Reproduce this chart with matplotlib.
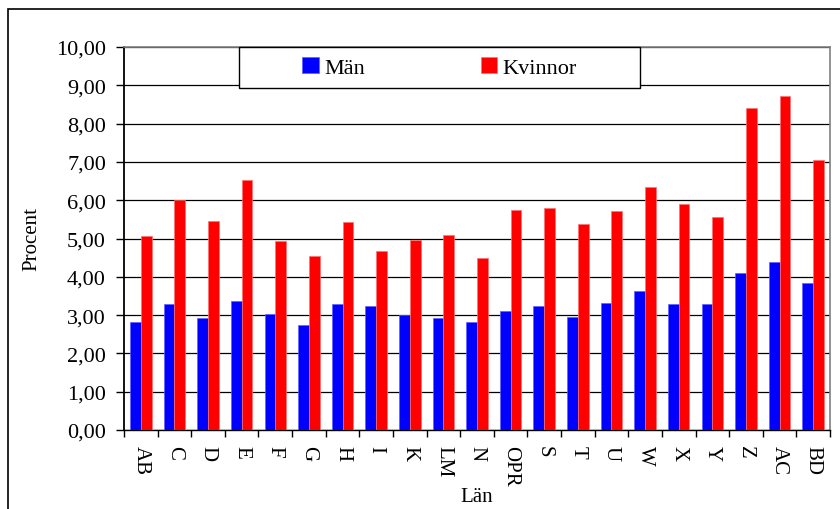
import matplotlib.pyplot as plt
import numpy as np
from matplotlib.patches import Rectangle
from matplotlib.ticker import FuncFormatter

plt.rcParams['font.family'] = ['Liberation Serif', 'DejaVu Serif']

# Andel per län (procent)
lan = ["AB", "C", "D", "E", "F", "G", "H", "I", "K", "LM", "N", "OPR",
       "S", "T", "U", "W", "X", "Y", "Z", "AC", "BD"]
man = [2.82, 3.28, 2.92, 3.37, 3.02, 2.73, 3.30, 3.23, 3.00, 2.92, 2.83,
       3.12, 3.23, 2.96, 3.31, 3.63, 3.29, 3.29, 4.09, 4.38, 3.85]
kvinnor = [5.07, 6.00, 5.45, 6.54, 4.93, 4.54, 5.43, 4.68, 4.97, 5.09, 4.49,
           5.74, 5.79, 5.37, 5.73, 6.35, 5.91, 5.55, 8.41, 8.72, 7.05]

W, H = 840, 510
fig = plt.figure(figsize=(W / 100, H / 100), dpi=100)
# plot area in pixels: left 124, right 830, top 48, bottom 431
ax = fig.add_axes([124 / W, 1 - 431 / H, (830 - 124) / W, (431 - 48) / H])

x = np.arange(len(lan))
bw = 0.32
ax.bar(x - bw / 2, man, bw, color="#0000ff", edgecolor="#6060ff", linewidth=0.5,
       label="Män", zorder=3)
ax.bar(x + bw / 2, kvinnor, bw, color="#ff0000", edgecolor="#ff7070", linewidth=0.5,
       label="Kvinnor", zorder=3)

ax.set_xlim(-0.5, len(lan) - 0.5)
ax.set_ylim(0, 10)
ax.set_yticks(np.arange(0, 10.01, 1))
ax.yaxis.set_major_formatter(FuncFormatter(lambda v, p: f"{v:.2f}".replace(".", ",")))
ax.grid(axis="y", color="black", linewidth=0.9, zorder=1)

ax.set_xticks(x)
ax.set_xticklabels(lan, rotation=-90, fontsize=15)
ax.set_xticks(np.arange(-0.5, len(lan), 1), minor=True)
ax.tick_params(axis="x", which="major", length=0, pad=11)
ax.tick_params(axis="x", which="minor", length=5, width=1, direction="out")
ax.tick_params(axis="y", length=6, width=1, labelsize=16, pad=7)

for s in ["top", "right"]:
    ax.spines[s].set_color("#808080")
    ax.spines[s].set_linewidth(1.2)
ax.spines["left"].set_linewidth(1.3)
ax.spines["bottom"].set_linewidth(1.0)

ax.set_ylabel("Procent", fontsize=15)
ax.yaxis.set_label_coords(-0.117, 0.5)
ax.set_xlabel("Län", fontsize=15)
ax.xaxis.set_label_coords(0.5, -0.148)

# legend box
lx0, lx1, ly0, ly1 = 239, 640, 48, 89
fig.patches.append(Rectangle((lx0 / W, 1 - ly1 / H), (lx1 - lx0) / W, (ly1 - ly0) / H,
                             transform=fig.transFigure, facecolor="white",
                             edgecolor="black", linewidth=1.0, zorder=5))
leg = fig.legend(loc="center", bbox_to_anchor=((lx0 + lx1) / 2 / W, 1 - (ly0 + ly1) / 2 / H),
                 ncol=2, frameon=False, prop={"family": "Liberation Serif", "size": 16},
                 handlelength=0.75, handleheight=0.75, handletextpad=0.25,
                 columnspacing=5.2)
leg.set_zorder(6)

# outer chart frame
fig.patches.append(Rectangle((8 / W, -0.1), 1.2, 1 - 10 / H + 0.1,
                             transform=fig.transFigure, facecolor="none",
                             edgecolor="black", linewidth=1.2))

fig.savefig("out.png", dpi=100)
